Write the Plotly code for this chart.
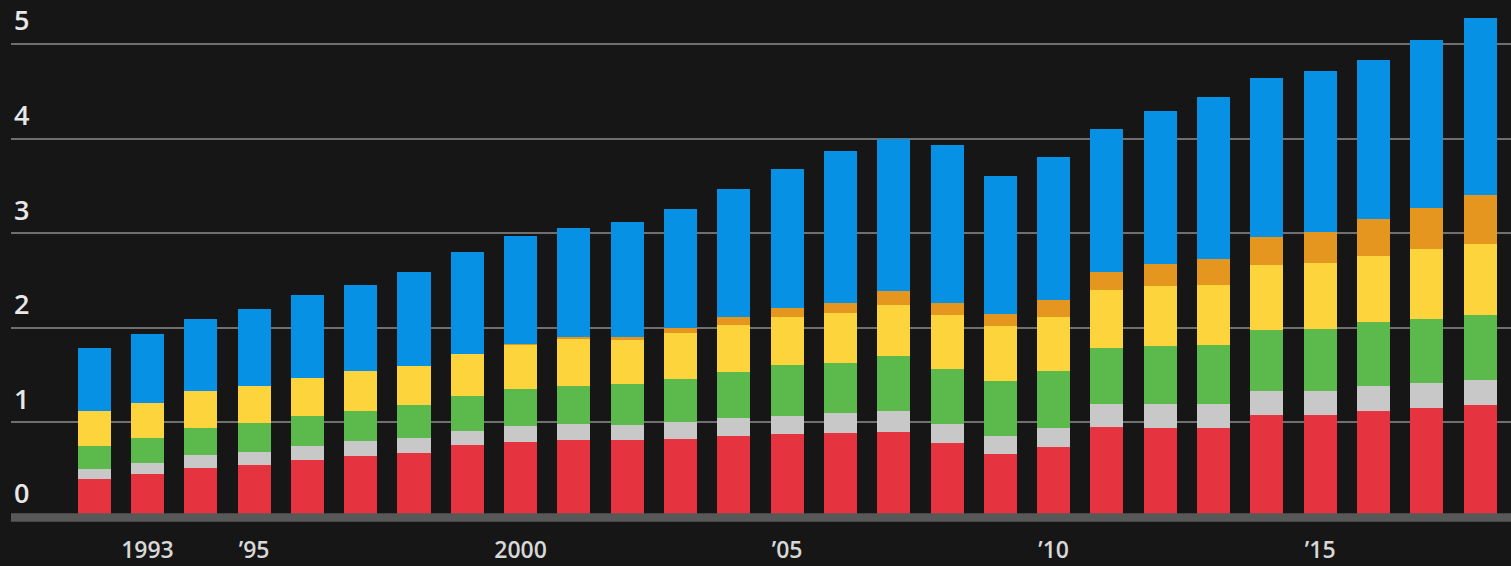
import plotly.graph_objects as go

years = list(range(1992, 2019))

# stacked segments, bottom to top
red = [0.40, 0.45, 0.52, 0.55, 0.60, 0.64, 0.675, 0.76, 0.79, 0.81, 0.81, 0.82, 0.86, 0.88,
       0.89, 0.90, 0.78, 0.67, 0.74, 0.95, 0.94, 0.94, 1.08, 1.08, 1.12, 1.15, 1.18]
grey = [0.11, 0.12, 0.14, 0.14, 0.15, 0.16, 0.16, 0.15, 0.17, 0.17, 0.16, 0.18, 0.19, 0.19,
        0.21, 0.22, 0.20, 0.19, 0.20, 0.24, 0.25, 0.25, 0.25, 0.25, 0.27, 0.27, 0.27]
green = [0.24, 0.27, 0.28, 0.30, 0.32, 0.32, 0.35, 0.37, 0.39, 0.41, 0.44, 0.46, 0.48, 0.54,
         0.53, 0.58, 0.58, 0.575, 0.60, 0.60, 0.62, 0.63, 0.65, 0.66, 0.67, 0.675, 0.69]
yellow = [0.37, 0.37, 0.39, 0.39, 0.40, 0.42, 0.41, 0.44, 0.47, 0.50, 0.47, 0.49, 0.50, 0.50,
          0.53, 0.545, 0.575, 0.58, 0.575, 0.61, 0.63, 0.63, 0.68, 0.69, 0.70, 0.735, 0.75]
orange = [0, 0, 0, 0, 0, 0, 0, 0, 0.01, 0.01, 0.02, 0.05, 0.08, 0.095,
          0.10, 0.145, 0.13, 0.13, 0.175, 0.19, 0.23, 0.275, 0.30, 0.335, 0.385, 0.44, 0.51]
blue = [0.67, 0.72, 0.76, 0.82, 0.88, 0.91, 0.99, 1.08, 1.14, 1.16, 1.22, 1.26, 1.36, 1.47,
        1.61, 1.61, 1.67, 1.46, 1.52, 1.51, 1.62, 1.72, 1.68, 1.70, 1.69, 1.77, 1.87]

x_tickvals = [1993, 1995, 2000, 2005, 2010, 2015]
x_ticktext = ["1993", "\u201995", "2000", "\u201905", "\u201910", "\u201915"]
y_tickvals = [0, 1, 2, 3, 4, 5]

series = [
    (red, "#e5333f"),
    (grey, "#c8c8c8"),
    (green, "#5cb94c"),
    (yellow, "#fdd43b"),
    (orange, "#e5961e"),
    (blue, "#0791e4"),
]

fig = go.Figure()
for vals, color in series:
    fig.add_trace(
        go.Bar(
            x=years,
            y=vals,
            marker=dict(color=color, line=dict(width=0)),
            showlegend=False,
        )
    )

# thick grey baseline over the bar bottoms
fig.add_shape(
    type="rect",
    xref="paper", yref="y",
    x0=0, x1=1, y0=-0.05, y1=0.04,
    fillcolor="#585858", line=dict(width=0),
    layer="above",
)

fig.update_xaxes(
    range=[1990.44, 2018.58],
    tickmode="array",
    tickvals=x_tickvals,
    ticktext=x_ticktext,
    showgrid=False,
    zeroline=False,
    showline=False,
    ticks="",
    ticklabelstandoff=6,
    tickfont=dict(family="Open Sans", size=23, color="#d8d8d8", weight=600),
)

fig.update_yaxes(
    range=[-0.116, 5.465],
    tickmode="array",
    tickvals=y_tickvals,
    showgrid=True,
    gridcolor="#6f6f6f",
    gridwidth=2,
    zeroline=False,
    ticks="",
    ticklabelposition="inside",
    ticklabelshift=-23,
    ticklabelstandoff=0,
    tickfont=dict(family="Open Sans", size=27, color="#e8e8e8", weight=600),
)

fig.update_layout(
    width=1511,
    height=566,
    barmode="stack",
    bargap=0.38,
    margin=dict(l=11, r=0, t=0, b=38),
    plot_bgcolor="#161616",
    paper_bgcolor="#161616",
)

fig.write_html(
    "out.html",
    config={"displayModeBar": False},
    post_script="document.body.style.margin='0';",
)
